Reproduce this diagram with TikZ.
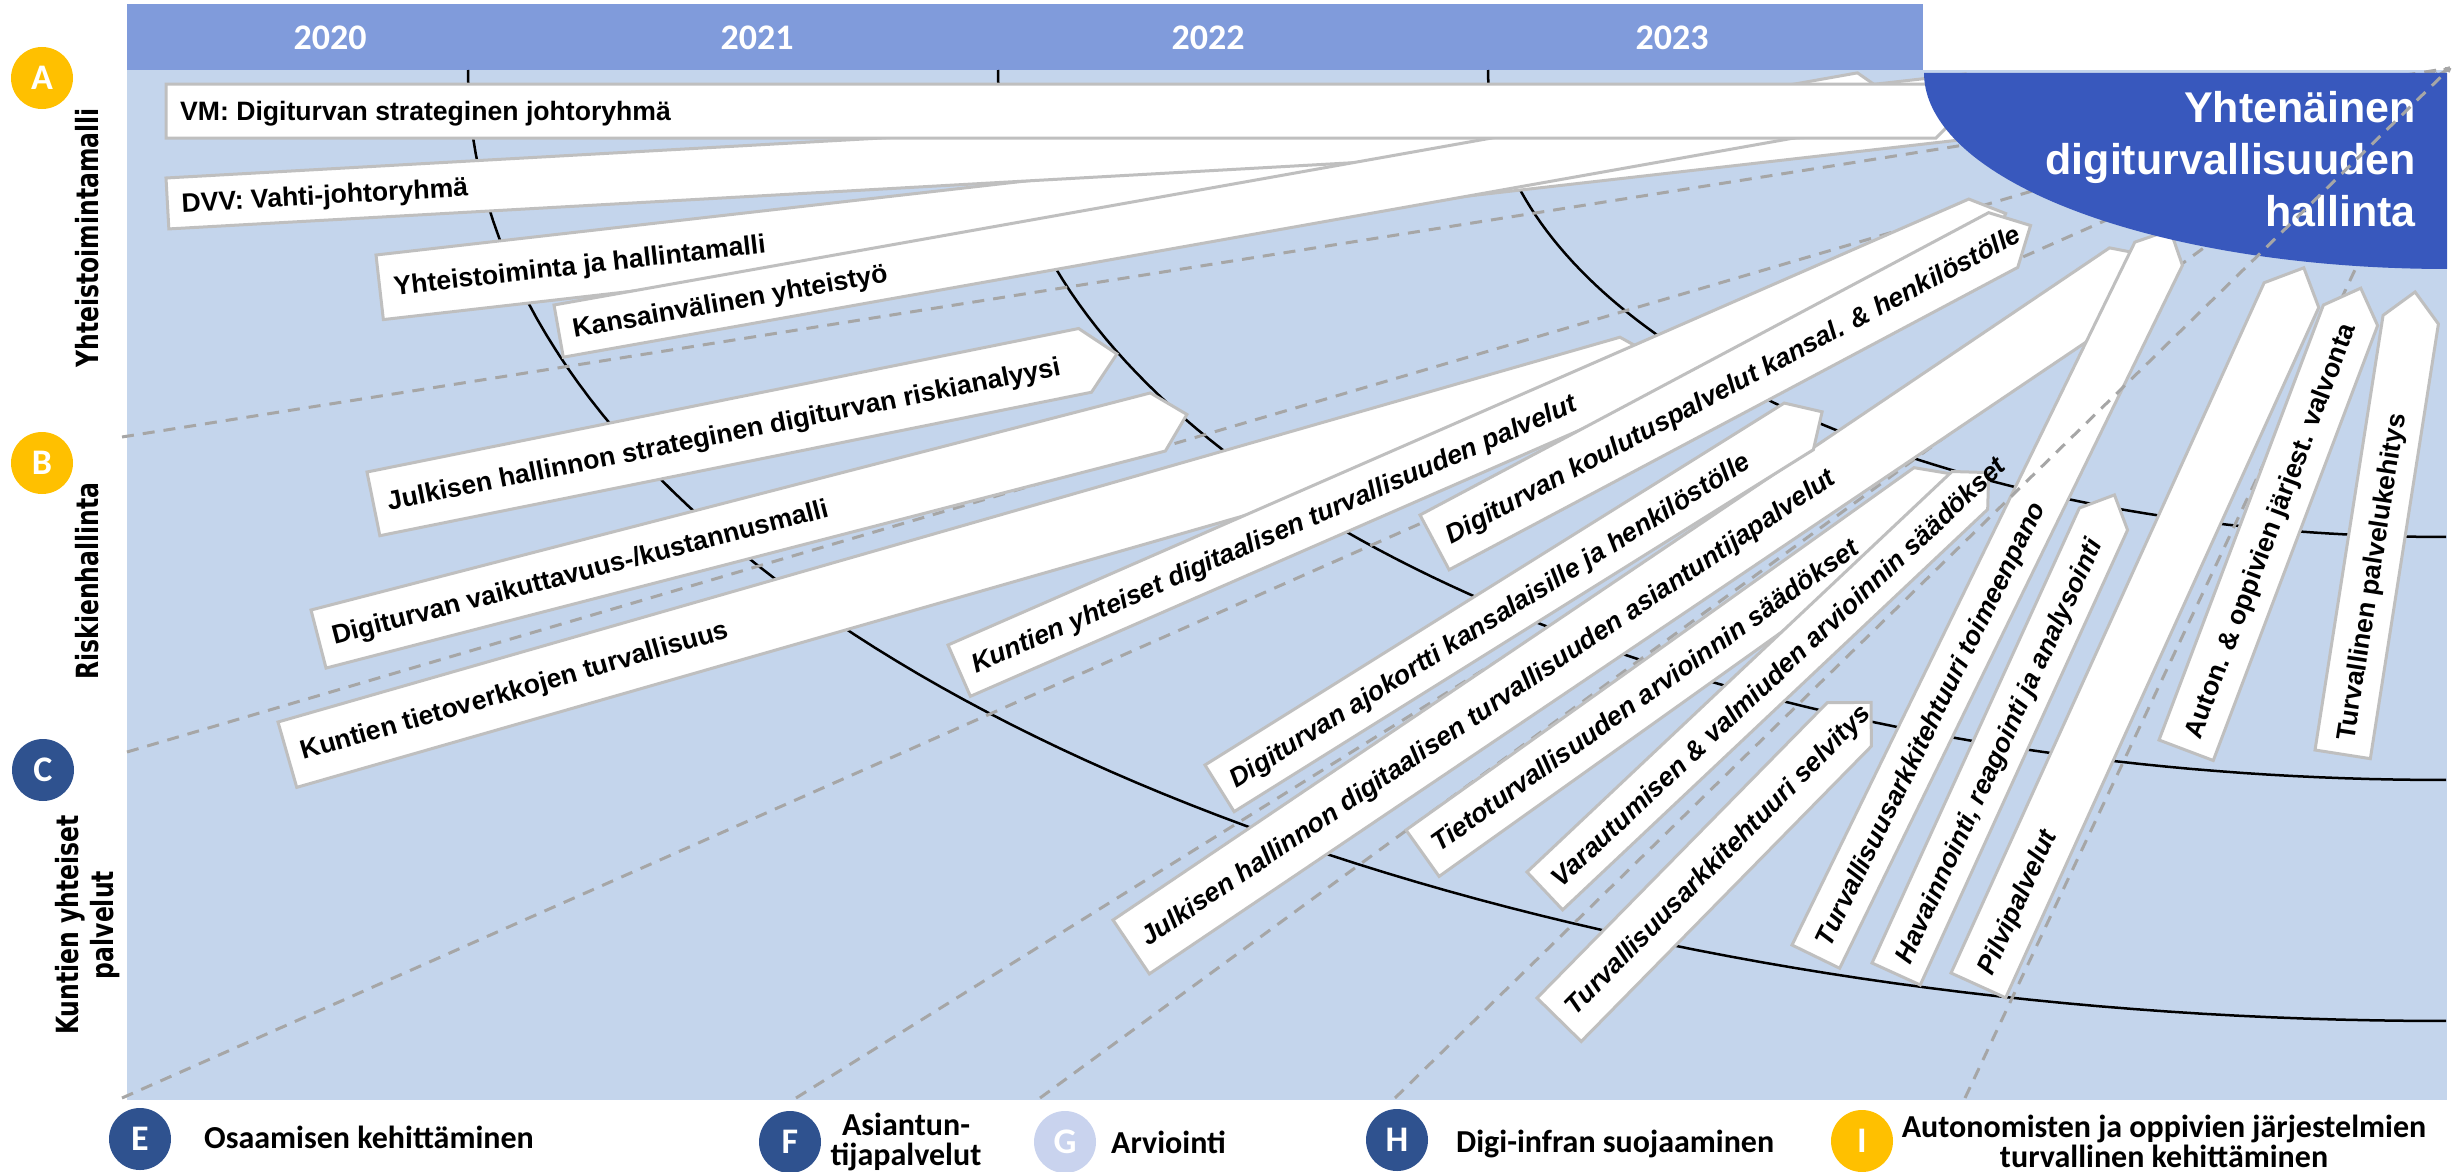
\documentclass[tikz,border=0pt]{standalone}
\usepackage{fontspec}
\setmainfont{Liberation Sans}
\newfontfamily\carlito{Carlito}
\newfontfamily\dejavu{DejaVu Sans}
\definecolor{bgblue}{RGB}{196,213,236}
\definecolor{hdrblue}{RGB}{128,155,219}
\definecolor{ttlblue}{RGB}{56,88,189}
\definecolor{boxgray}{RGB}{191,191,191}
\definecolor{dashgray}{RGB}{166,166,166}
\definecolor{ambery}{RGB}{255,192,0}
\definecolor{navyc}{RGB}{47,82,143}
\definecolor{lavend}{RGB}{201,211,238}
\tikzset{
 boxst/.style={fill=white, draw=boxgray, line width=3pt, line join=miter},
 itemup/.style={font=\fontsize{26.6}{30}\selectfont\bfseries, inner sep=0pt},
 itemit/.style={font=\fontsize{26.6}{30}\selectfont\bfseries\itshape, inner sep=0pt},
 arcst/.style={black, line width=2.5pt},
 dashst/.style={dashgray, line width=3pt, dash pattern=on 12pt off 9pt},
 yearst/.style={white, font=\carlito\fontsize{36}{40}\selectfont\bfseries, anchor=base, inner sep=0pt},
 ttlst/.style={white, font=\fontsize{43}{52}\selectfont\bfseries, anchor=base east, inner sep=0pt},
 circst/.style={circle, minimum size=62pt, inner sep=0pt, text=white, font=\carlito\fontsize{36}{40}\selectfont\bfseries},
 sidest/.style={rotate=90, yscale=1.3, font=\dejavu\fontsize{23.5}{27}\selectfont\bfseries, align=center, inner sep=0pt},
 legst/.style={font=\carlito\fontsize{32}{30}\selectfont\bfseries, inner sep=0pt}
}
% name, x, y, angle, length, height, style, text
\newcommand\digibox[8]{%
 \begin{scope}[shift={(#2,#3)},rotate=#4]
  \draw[boxst] (0,0) -- (#5,0) -- ({#5+#6/2},{#6/2}) -- (#5,#6) -- (0,#6) -- cycle;
  \node[#7,anchor=base west,rotate=#4] (#1) at (14,{#6/2+9.5}) {#8};
 \end{scope}}
\begin{document}
\begin{tikzpicture}[x=1pt,y=-1pt]
\useasboundingbox (0,0) rectangle (2463,1172);
% background and header
\fill[bgblue] (127,70) rectangle (2447,1100);
\fill[hdrblue] (127,4) rectangle (1923,70);
\node[yearst] (y20) at (330,50) {2020};
\node[yearst] (y21) at (757,50) {2021};
\node[yearst] (y22) at (1208,50) {2022};
\node[yearst] (y23) at (1672,50) {2023};
% arcs
\draw[arcst] plot[domain=180:90,samples=90] ({2446+1978*cos(\x)},{70+951*sin(\x)});
\draw[arcst] plot[domain=180:90,samples=90] ({2446+1448*cos(\x)},{70+710*sin(\x)});
\draw[arcst] plot[domain=180:90,samples=90] ({2446+958*cos(\x)},{70+467*sin(\x)});
% dashed guides
\coordinate (vp) at (2450,68);
\coordinate (d1) at (122,437);
\coordinate (d2) at (127,752);
\coordinate (d3) at (122,1098);
\coordinate (d4) at (796,1098);
\coordinate (d5) at (1040,1098);
\coordinate (d6) at (1395,1098);
\coordinate (d7) at (1965,1098);
\foreach \d in {d1,d2,d3,d4,d5,d7} \draw[dashst] (\d) -- (vp);
% boxes
\digibox{bA3}{376}{255}{6.5}{1600}{65}{itemup}{Yhteistoiminta ja hallintamalli}
\digibox{bA2}{166}{178}{3.2}{1680}{51}{itemup}{DVV: Vahti-johtoryhmä}
\digibox{bA4}{554}{305}{10.1}{1324}{53}{itemup}{Kansainvälinen yhteistyö}
\digibox{bA1}{166}{84}{0}{1770}{54}{itemup}{VM: Digiturvan strateginen johtoryhmä}
\digibox{bB3}{278}{722}{16}{1396}{68}{itemup}{Kuntien tietoverkkojen turvallisuus}
\digibox{bB2}{311}{610}{14.5}{867}{60}{itemup}{Digiturvan vaikuttavuus-/kustannusmalli}
\digibox{bB1}{367}{472}{11.4}{726}{65}{itemup}{Julkisen hallinnon strateginen digiturvan riskianalyysi}
\digibox{bC1}{948}{645}{23.6}{1114}{56}{itemit}{Kuntien yhteiset digitaalisen turvallisuuden palvelut}
\digibox{bC2}{1420}{515}{28}{644}{62}{itemit}{Digiturvan koulutuspalvelut kansal. \& henkilöstölle}
\digibox{bC4}{1113}{920}{34}{1202}{65}{itemit}{Julkisen hallinnon digitaalisen turvallisuuden asiantuntijapalvelut}
\digibox{bC3}{1205}{765}{32}{683}{55}{itemit}{Digiturvan ajokortti kansalaisille ja henkilöstölle}
\digibox{bC5}{1406}{830}{35.5}{624}{57}{itemit}{Tietoturvallisuuden arvioinnin säädökset}
\digibox{bC6}{1527}{872}{43.3}{584}{52}{itemit}{Varautumisen \& valmiuden arvioinnin säädökset}
\digibox{bC7}{1537}{998}{45.5}{414}{62}{itemit}{Turvallisuusarkkitehtuuri selvitys}
\digibox{bV1}{1792}{945}{64}{782}{53}{itemit}{Turvallisuusarkkitehtuuri toimeenpano}
\digibox{bV2}{1872}{963}{65.5}{500}{53}{itemit}{Havainnointi, reagointi ja analysointi}
\digibox{bV3}{1951}{973}{65.6}{758}{60}{itemit}{Pilvipalvelut}
\digibox{bV4}{2159}{740}{69.3}{465}{58}{itemup}{Auton. \& oppivien järjest. valvonta}
\digibox{bV5}{2315}{750}{81.1}{440}{56}{itemup}{Turvallinen palvelukehitys}
% title
\fill[ttlblue] plot[domain=180:90,samples=80] ({2447+523*cos(\x)},{73+196*sin(\x)}) -- (2447,73) -- cycle;
\node[ttlst] (t1) at (2416,122) {Yhtenäinen};
\node[ttlst] (t2) at (2416,174) {digiturvallisuuden};
\node[ttlst] (t3) at (2416,226) {hallinta};
\draw[dashst] (d6) -- (vp);
% side labels
\node[circst, fill=ambery] (cA) at (42,78) {A};
\node[circst, fill=ambery] (cB) at (42,463) {B};
\node[circst, fill=navyc] (cC) at (43,770) {C};
\node[sidest] (sA) at (87,238) {Yhteistoimintamalli};
\node[sidest] (sB) at (87,581) {Riskienhallinta};
\node[sidest] (sC) at (88,925) {Kuntien yhteiset\\palvelut};
% legend
\node[circst, fill=navyc] (cE) at (140,1139) {E};
\node[legst, anchor=base west] (lE) at (204,1148) {Osaamisen kehittäminen};
\node[circst, fill=navyc] (cF) at (790,1142) {F};
\node[legst, align=center] (lF) at (906,1142) {Asiantun-\\tijapalvelut};
\node[circst, fill=lavend] (cG) at (1065,1142) {G};
\node[legst, anchor=base west] (lG) at (1111,1153) {Arviointi};
\node[circst, fill=navyc] (cH) at (1397,1140) {H};
\node[legst, anchor=base west] (lH) at (1456,1152) {Digi-infran suojaaminen};
\node[circst, fill=ambery] (cI) at (1862,1141) {I};
\node[legst, align=center] (lI) at (2164,1141) {Autonomisten ja oppivien järjestelmien\\turvallinen kehittäminen};
\end{tikzpicture}
\end{document}
